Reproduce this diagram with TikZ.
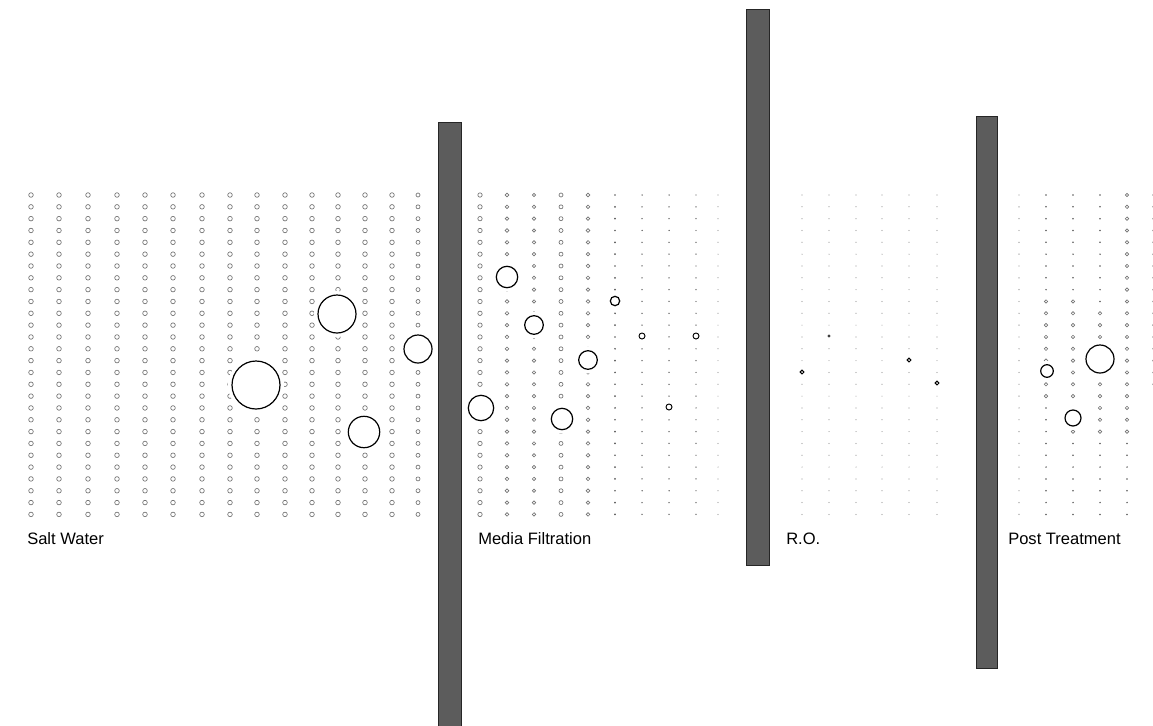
\documentclass[tikz,border=0pt]{standalone}
\usepackage{fontspec}
\setmainfont{Liberation Sans}
\usepackage{xcolor}
\definecolor{wallgray}{gray}{0.36}
\definecolor{ringgray}{gray}{0.45}
\tikzset{
  ring/.style={draw=ringgray,line width=0.5pt},
  speck/.style={fill=black!65},
  mote/.style={fill=black!40},
  lump/.style={draw=black,line width=0.9pt},
  wallbar/.style={fill=wallgray,draw=black!85,line width=0.5pt},
  stagelabel/.style={anchor=base west,inner sep=0pt,font=\fontsize{12.4}{14}\selectfont}
}

\begin{document}
\begin{tikzpicture}[x=0.75pt,y=-0.75pt]
\useasboundingbox (0,0) rectangle (1153,725);
\clip (0,0) rectangle (1153,725);
% salt water
\foreach \x in {31,59,88,117,145,173,202,230,257,285,312,338,365,392}
  \foreach \j in {0,...,27}
    \draw[ring] (\x,{195+\j*11.83}) circle (2.3);
\foreach \j in {0,...,27}
  \draw[ring] (418,{195+\j*11.83}) circle (2);
% media filtration
\foreach \x/\r in {480/2.2,507/1.8,534/1.7,561/2,588/1.8}
  \foreach \j in {0,...,27}
    \draw[ring] (\x,{195+\j*11.83}) circle (\r);
\foreach \x/\r in {615/0.95,642/0.75,669/0.75,696/0.7}
  \foreach \j in {0,...,27}
    \fill[speck] (\x,{195+\j*11.83}) circle (\r);
\foreach \j in {0,...,27}
  \fill[mote] (718,{195+\j*11.83}) circle (0.6);
% r.o.
\foreach \x in {802,829,856,882,909,937}
  \foreach \j in {0,...,27}
    \fill[mote] (\x,{195+\j*11.83}) circle (0.6);
% post treatment
\foreach \j in {0,...,27}
  \fill[mote] (1019,{195+\j*11.83}) circle (0.7);
\foreach \j in {0,...,16}
  \fill[mote] (1153,{195+\j*11.83}) circle (0.9);
\foreach \x/\a/\b in {1046/9/17,1073/9/20,1100/10/20,1127/0/20}
  \foreach \j in {0,...,27}{
    \ifnum\j<\a
      \fill[speck] (\x,{195+\j*11.83}) circle (0.85);
    \else\ifnum\j>\b
      \fill[speck] (\x,{195+\j*11.83}) circle (0.85);
    \else
      \draw[ring] (\x,{195+\j*11.83}) circle (1.7);
    \fi\fi
  }
% big particles, with a clear ring round each
\foreach \x/\y/\r in {256/385/24,337/314/19,418/349/14,364/432/15.7,
    481/408/12.7,507/277/10.7,534/325/9.3,588/360/9.3,562/419/10.7,
    615/301/4.7,642/336/3,696/336/3,669/407/3,
    829/336/1.5,802/372/2,909/360/2,937/383/2,
    1100/359/14,1047/371/6.3,1073/418/8}
  \fill[white] (\x,\y) circle ({\r+4});
\foreach \x/\y/\r in {256/385/24,337/314/19,418/349/14,364/432/15.7,
    481/408/12.7,507/277/10.7,534/325/9.3,588/360/9.3,562/419/10.7,
    615/301/4.7}
  \draw[lump] (\x,\y) circle (\r);
\foreach \x/\y/\r in {642/336/3,696/336/3,669/407/3,802/372/1.9,909/360/1.9,937/383/1.9}
  \draw[lump,line width=0.7pt] (\x,\y) circle (\r);
\fill[black!75] (829,336) circle (1.6);
\foreach \x/\y/\r in {1100/359/14,1047/371/6.3,1073/418/8}
  \draw[lump] (\x,\y) circle (\r);
% filter walls
\draw[wallbar] (438,122) rectangle (461,735);
\draw[wallbar] (746,9) rectangle (769,565);
\draw[wallbar] (976,116) rectangle (997,668);
% stage names
\node[stagelabel] (salt) at (27,544) {Salt Water};
\node[stagelabel] (media) at (478,544) {Media Filtration};
\node[stagelabel] (ro) at (786,544) {R.O.};
\node[stagelabel] (post) at (1008,544) {Post Treatment};
\end{tikzpicture}
\end{document}
